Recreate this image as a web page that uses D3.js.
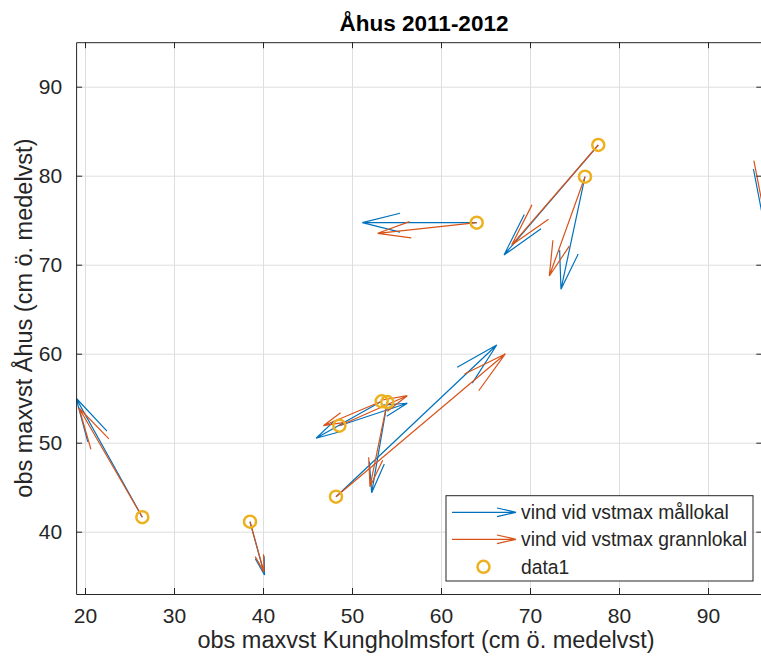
<!DOCTYPE html>
<html>
<head>
<meta charset="utf-8">
<script src="https://cdn.jsdelivr.net/npm/d3@7"></script>
<style>
  body { margin: 0; background: #fff; }
  text { font-family: "Liberation Sans", Arial, Helvetica, sans-serif; fill: #262626; }
</style>
</head>
<body>
<div id="chart"></div>
<script>
const baseX = [26.44, 38.54, 48.20, 48.58, 53.33, 53.96, 64.01, 76.18, 77.67, 97.0];
const baseY = [41.63, 41.12, 43.93, 51.91, 54.65, 54.57, 74.72, 79.89, 83.45, 93.0];

// vind vid vstmax mållokal
const blueU = [-7.45, 1.63, 18.06, 7.63, -7.37, -1.75, -12.85, -2.70, -10.59, -0.93];
const blueV = [13.39, -5.99, 17.05, 2.52, -4.15, -10.19, 0.00, -12.65, -12.36, -17.25];

// vind vid vstmax grannlokal
const orangeU = [-7.11, 1.57, 19.02, 7.63, -6.55, -1.94, -11.12, -4.01, -9.73, -0.88];
const orangeV = [12.27, -5.66, 16.04, 3.37, -2.74, -9.51, -1.19, -11.16, -11.24, -16.30];

const xTicks = [20, 30, 40, 50, 60, 70, 80, 90];
const yTicks = [40, 50, 60, 70, 80, 90];
const legendLabels = ["vind vid vstmax mållokal", "vind vid vstmax grannlokal", "data1"];

const blue = "#0072BD", orange = "#D95319", yellow = "#EDB120";

const W = 761, H = 659;
const svg = d3.select("#chart").append("svg")
    .attr("width", W)
    .attr("height", H);

const x = d3.scaleLinear().domain([19, 96.1]).range([76.1, 762.3]);
const y = d3.scaleLinear().domain([33, 95]).range([594, 42.2]);
const [x0, x1] = x.range();
const [y0, y1] = y.range();

svg.append("clipPath").attr("id", "plot-clip")
  .append("rect")
    .attr("x", x0).attr("y", y1)
    .attr("width", x1 - x0).attr("height", y0 - y1);

// Grid
svg.append("g")
    .attr("transform", `translate(0,${y0})`)
    .call(d3.axisBottom(x).tickValues(xTicks).tickSize(-(y0 - y1)).tickFormat(""))
    .call(g => g.select(".domain").remove())
    .call(g => g.selectAll("line").attr("stroke", "#dedede"));
svg.append("g")
    .attr("transform", `translate(${x0},0)`)
    .call(d3.axisLeft(y).tickValues(yTicks).tickSize(-(x1 - x0)).tickFormat(""))
    .call(g => g.select(".domain").remove())
    .call(g => g.selectAll("line").attr("stroke", "#dedede"));

const plot = svg.append("g").attr("clip-path", "url(#plot-clip)");

// MATLAB style quiver arrow: shaft plus two barbs
function arrowPath(px, py, qx, qy) {
    const dx = qx - px, dy = qy - py;
    const len = Math.hypot(dx, dy);
    const ux = dx / len, uy = dy / len;
    const h = Math.min(0.33 * len, 44);
    const w = 0.25 * h;
    const bx = qx - h * ux, by = qy - h * uy;
    return `M${px},${py}L${qx},${qy}` +
        `M${bx - w * uy},${by + w * ux}L${qx},${qy}L${bx + w * uy},${by - w * ux}`;
}

function drawQuiver(U, V, color) {
    plot.append("g")
        .selectAll("path")
        .data(baseX.map((bx, i) => ({ bx, by: baseY[i], u: U[i], v: V[i] })))
        .join("path")
        .attr("fill", "none")
        .attr("stroke", color)
        .attr("stroke-width", 1.2)
        .attr("stroke-linejoin", "miter")
        .attr("d", d => arrowPath(x(d.bx), y(d.by), x(d.bx + d.u), y(d.by + d.v)));
}

drawQuiver(blueU, blueV, blue);
drawQuiver(orangeU, orangeV, orange);

plot.append("g")
    .selectAll("circle")
    .data(baseX.map((bx, i) => [bx, baseY[i]]))
    .join("circle")
    .attr("cx", d => x(d[0]))
    .attr("cy", d => y(d[1]))
    .attr("r", 6)
    .attr("fill", "none")
    .attr("stroke", yellow)
    .attr("stroke-width", 2.5);

// Axes (box with inward ticks)
const axisColor = "#262626";
const tl = 6;
const axBottom = svg.append("g")
    .attr("transform", `translate(0,${y0})`)
    .call(d3.axisBottom(x).tickValues(xTicks).tickSizeInner(-tl).tickSizeOuter(0).tickPadding(14));
const axTop = svg.append("g")
    .attr("transform", `translate(0,${y1})`)
    .call(d3.axisTop(x).tickValues(xTicks).tickSizeInner(-tl).tickSizeOuter(0).tickFormat(""));
const axLeft = svg.append("g")
    .attr("transform", `translate(${x0},0)`)
    .call(d3.axisLeft(y).tickValues(yTicks).tickSizeInner(-tl).tickSizeOuter(0).tickPadding(14));
const axRight = svg.append("g")
    .attr("transform", `translate(${x1},0)`)
    .call(d3.axisRight(y).tickValues(yTicks).tickSizeInner(-tl).tickSizeOuter(0).tickFormat(""));

[axBottom, axTop, axLeft, axRight].forEach(g => {
    g.select(".domain").attr("stroke", axisColor).attr("stroke-width", 1);
    g.selectAll(".tick line").attr("stroke", axisColor);
    g.selectAll(".tick text")
        .attr("fill", axisColor)
        .style("font-size", "21px")
        .style("font-family", "'Liberation Sans', Arial, sans-serif");
});

// Labels
svg.append("text")
    .attr("x", 424)
    .attr("y", 31)
    .attr("text-anchor", "middle")
    .style("font-size", "22.5px")
    .style("font-weight", "bold")
    .style("fill", "#000")
    .text("Åhus 2011-2012");

svg.append("text")
    .attr("x", 426)
    .attr("y", 648)
    .attr("text-anchor", "middle")
    .style("font-size", "23.5px")
    .text("obs maxvst Kungholmsfort (cm ö. medelvst)");

svg.append("text")
    .attr("transform", `translate(32,${(y0 + y1) / 2}) rotate(-90)`)
    .attr("text-anchor", "middle")
    .style("font-size", "23.5px")
    .text("obs maxvst Åhus (cm ö. medelvst)");

// Legend
const legend = svg.append("g");
legend.append("rect")
    .attr("x", 446).attr("y", 495.7)
    .attr("width", 307).attr("height", 85.3)
    .attr("fill", "#fff")
    .attr("stroke", axisColor)
    .attr("stroke-width", 1);

const rowY = [512.3, 539.3, 566.8];
[blue, orange].forEach((c, i) => {
    const yy = rowY[i];
    legend.append("path")
        .attr("fill", "none")
        .attr("stroke", c)
        .attr("stroke-width", 1.2)
        .attr("d", `M452,${yy}L516,${yy}M497,${yy - 4.3}L516,${yy}L497,${yy + 4.3}`);
});
legend.append("circle")
    .attr("cx", 483.5).attr("cy", rowY[2])
    .attr("r", 6)
    .attr("fill", "none")
    .attr("stroke", yellow)
    .attr("stroke-width", 2.5);

legend.selectAll("text.lbl")
    .data(legendLabels)
    .join("text")
    .attr("class", "lbl")
    .attr("x", 521)
    .attr("y", (d, i) => rowY[i] + 6.8)
    .style("font-size", "19.3px")
    .text(d => d);
</script>
</body>
</html>
